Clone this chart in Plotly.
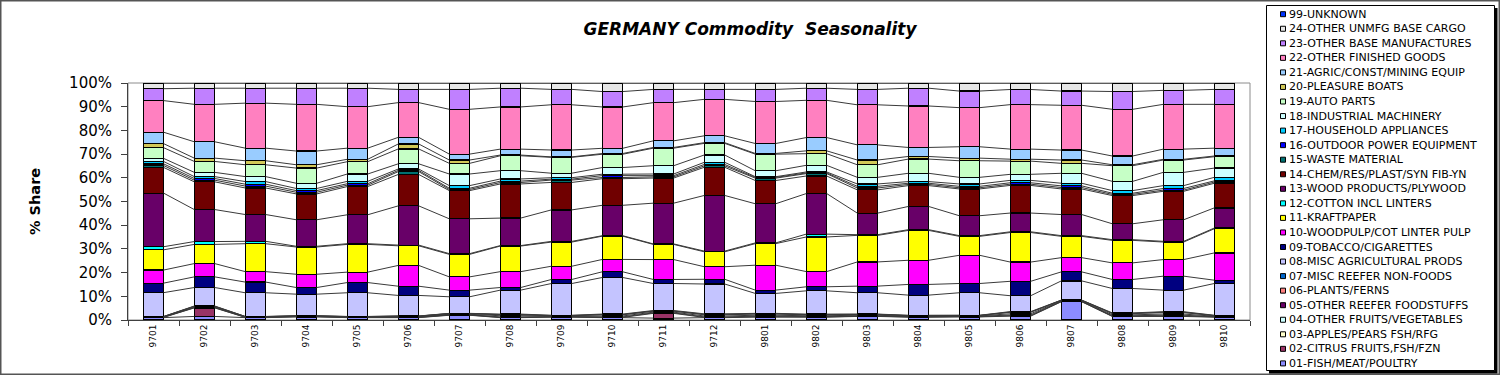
import plotly.graph_objects as go
import numpy as np

months = ["9701", "9702", "9703", "9704", "9705", "9706", "9707", "9708", "9709", "9710", "9711", "9712",
          "9801", "9802", "9803", "9804", "9805", "9806", "9807", "9808", "9809", "9810"]

names = ["01-FISH/MEAT/POULTRY", "02-CITRUS FRUITS,FSH/FZN", "03-APPLES/PEARS FSH/RFG",
         "04-OTHER FRUITS/VEGETABLES", "05-OTHER REEFER FOODSTUFFS", "06-PLANTS/FERNS",
         "07-MISC REEFER NON-FOODS", "08-MISC AGRICULTURAL PRODS", "09-TOBACCO/CIGARETTES",
         "10-WOODPULP/COT LINTER PULP", "11-KRAFTPAPER", "12-COTTON INCL LINTERS",
         "13-WOOD PRODUCTS/PLYWOOD", "14-CHEM/RES/PLAST/SYN FIB-YN", "15-WASTE MATERIAL",
         "16-OUTDOOR POWER EQUIPMENT", "17-HOUSEHOLD APPLIANCES", "18-INDUSTRIAL MACHINERY",
         "19-AUTO PARTS", "20-PLEASURE BOATS", "21-AGRIC/CONST/MINING EQUIP",
         "22-OTHER FINISHED GOODS", "23-OTHER BASE MANUFACTURES", "24-OTHER UNMFG BASE CARGO",
         "99-UNKNOWN"]

s01 = [1.0, 1.5, 1.0, 1.3, 1.0, 1.0, 2.0, 1.0, 1.2, 1.0, 0.8, 1.0, 1.2, 1.2, 1.5, 1.2, 1.3, 1.6, 7.7, 1.5, 1.5, 1.2]
s02 = [0.1, 3.6, 0.1, 0.1, 0.1, 0.1, 0.1, 0.1, 0.1, 0.1, 2.0, 0.1, 0.2, 0.1, 0.1, 0.1, 0.1, 0.2, 0.1, 0.1, 0.2, 0.1]
s03 = [0.1, 0.1, 0.1, 0.1, 0.1, 0.1, 0.1, 0.2, 0.1, 0.2, 0.2, 0.2, 0.2, 0.2, 0.1, 0.1, 0.1, 0.3, 0.1, 0.2, 0.3, 0.1]
s04 = [0.1, 0.2, 0.1, 0.1, 0.1, 0.2, 0.2, 0.5, 0.2, 0.4, 0.3, 0.4, 0.4, 0.3, 0.3, 0.2, 0.2, 0.5, 0.2, 0.4, 0.5, 0.2]
s05 = [0.1, 0.3, 0.1, 0.1, 0.1, 0.2, 0.3, 0.4, 0.2, 0.5, 0.4, 0.5, 0.5, 0.4, 0.3, 0.2, 0.2, 0.6, 0.2, 0.5, 0.6, 0.2]
s06 = [0.05, 0.1, 0.05, 0.05, 0.05, 0.05, 0.05, 0.1, 0.1, 0.1, 0.1, 0.2, 0.1, 0.1, 0.1, 0.1, 0.05, 0.1, 0.05, 0.1, 0.2, 0.1]
s07 = [0.05, 0.1, 0.05, 0.05, 0.05, 0.05, 0.05, 0.2, 0.1, 0.2, 0.2, 0.2, 0.2, 0.2, 0.1, 0.1, 0.05, 0.2, 0.05, 0.2, 0.2, 0.1]
s08 = [10.0, 7.8, 10.0, 9.1, 10.0, 8.7, 7.0, 10.1, 13.4, 15.4, 11.4, 12.6, 8.4, 9.8, 9.0, 8.5, 9.5, 6.6, 8.1, 10.3, 9.1, 13.4]
s09 = [4.0, 4.5, 4.5, 2.8, 4.3, 3.9, 2.8, 1.1, 1.7, 2.4, 1.7, 2.0, 1.4, 1.7, 2.8, 4.5, 3.9, 6.0, 3.8, 3.8, 5.9, 1.4]
s10 = [5.5, 5.6, 4.4, 5.6, 4.4, 8.8, 5.6, 6.7, 5.6, 5.2, 8.4, 5.3, 10.5, 6.4, 10.2, 10.2, 11.9, 8.0, 6.0, 7.0, 7.0, 11.5]
s11 = [8.5, 8.1, 11.8, 11.5, 11.7, 8.3, 9.5, 10.8, 10.2, 9.8, 6.4, 6.3, 9.1, 14.6, 11.2, 12.6, 8.0, 12.3, 9.0, 9.5, 7.4, 10.2]
s12 = [1.3, 1.2, 1.0, 0.3, 0.3, 0.3, 0.3, 0.2, 0.3, 0.2, 0.2, 0.3, 0.3, 1.2, 0.3, 0.3, 0.3, 0.3, 0.3, 0.3, 0.3, 0.3]
s13 = [22.5, 13.5, 11.3, 11.2, 12.2, 16.6, 14.7, 11.6, 13.3, 12.8, 17.2, 23.5, 16.5, 17.1, 9.1, 9.8, 8.4, 7.8, 8.9, 6.7, 9.1, 8.5]
s14 = [10.8, 11.7, 11.2, 10.9, 11.9, 13.3, 11.9, 14.4, 11.6, 11.2, 10.6, 11.9, 9.8, 7.4, 9.8, 8.8, 11.3, 11.5, 10.8, 11.9, 12.0, 10.4]
s15 = [0.8, 0.7, 0.8, 0.7, 0.6, 1.2, 0.5, 0.6, 1.0, 0.5, 0.5, 0.6, 1.0, 1.0, 0.8, 0.5, 0.5, 0.5, 0.6, 0.5, 0.5, 0.5]
s16 = [0.7, 0.7, 0.8, 0.7, 0.6, 0.5, 0.5, 0.6, 0.4, 0.8, 0.5, 0.6, 0.3, 0.3, 0.7, 0.5, 0.6, 0.6, 0.7, 0.5, 0.7, 0.5]
s17 = [1.0, 0.8, 1.1, 0.9, 1.0, 0.6, 1.1, 0.9, 0.6, 0.6, 0.7, 0.9, 0.3, 0.4, 1.0, 0.7, 1.0, 1.0, 1.1, 1.1, 1.2, 1.5]
s18 = [1.3, 1.8, 2.1, 2.2, 3.1, 2.2, 4.9, 3.5, 1.9, 2.8, 3.5, 3.1, 2.5, 2.8, 2.8, 3.5, 2.8, 2.5, 4.2, 3.9, 5.6, 3.9]
s19 = [4.5, 4.6, 5.0, 6.4, 5.2, 6.3, 4.5, 6.3, 6.7, 5.6, 7.4, 4.9, 7.0, 4.9, 5.3, 6.0, 7.0, 5.5, 4.2, 6.6, 5.2, 4.8]
s20 = [1.7, 1.4, 1.7, 1.4, 1.0, 2.1, 1.4, 0.3, 0.2, 0.3, 0.3, 0.3, 0.3, 1.2, 2.0, 1.1, 1.1, 0.8, 1.4, 0.4, 0.3, 0.3]
s21 = [4.8, 6.9, 5.3, 5.8, 4.7, 2.8, 2.5, 2.5, 2.9, 2.2, 2.8, 2.9, 4.2, 5.6, 6.4, 3.8, 4.8, 4.2, 4.2, 3.7, 4.3, 3.3]
s22 = [13.3, 15.8, 19.0, 19.7, 17.5, 14.7, 18.9, 17.8, 19.1, 17.4, 16.1, 15.4, 17.7, 15.7, 16.9, 17.5, 16.5, 18.5, 18.9, 19.7, 18.9, 18.5]
s23 = [5.0, 6.8, 6.3, 6.8, 7.8, 5.6, 8.4, 7.9, 6.5, 6.5, 5.6, 4.2, 5.1, 5.1, 6.5, 7.5, 7.0, 6.3, 6.0, 7.5, 5.9, 6.3]
s24 = [2.4, 2.2, 2.2, 2.2, 2.2, 2.7, 2.7, 2.2, 2.7, 3.6, 2.7, 2.7, 2.7, 2.2, 2.7, 2.2, 3.4, 2.7, 3.4, 3.6, 3.1, 2.7]
s99 = [0.0] * 22

series = [s01, s02, s03, s04, s05, s06, s07, s08, s09, s10, s11, s12, s13, s14, s15, s16, s17,
          s18, s19, s20, s21, s22, s23, s24, s99]

colors = ["#8C8CFF", "#993366", "#FFFFCC", "#CCFFFF", "#660066", "#FF8080", "#0066CC", "#C4C4FF",
          "#000080", "#FF00FF", "#FFFF00", "#00FFFF", "#680068", "#700000", "#007070", "#0000FF",
          "#00CCFF", "#CCFFFF", "#C6FFC6", "#D2C858", "#99CCFF", "#FF80C0", "#C080FF", "#E6E6E6",
          "#0033FF"]

FONT = "DejaVu Sans"
vals = np.array(series, dtype=float)
pct = vals / vals.sum(axis=0) * 100.0
tops = np.cumsum(pct, axis=0)
n = len(months)
xs_idx = list(range(n))
BW = 0.4

fig = go.Figure()
for k, name in enumerate(names):
    fig.add_trace(go.Bar(x=xs_idx, y=pct[k], name=name, width=BW,
                         marker=dict(color=colors[k], line=dict(color="#000000", width=1.2)),
                         showlegend=False))

# series lines connecting segment tops between bars
lx, ly = [], []
for k in range(len(names)):
    for i in range(n - 1):
        lx += [i + BW / 2, i + 1 - BW / 2, None]
        ly += [tops[k][i], tops[k][i + 1], None]
fig.add_trace(go.Scatter(x=lx, y=ly, mode="lines", line=dict(color="#3a3a3a", width=1),
                         hoverinfo="skip", showlegend=False))

# geometry helpers (pixel -> paper)
L, R, T, B = 128, 1250, 83, 320
W, H = R - L, B - T
def px(x):
    return (x - L) / W
def py(y):
    return (B - y) / H

shapes = []
annotations = []
# outer chart border
shapes.append(dict(type="rect", xref="paper", yref="paper", x0=px(0.75), x1=px(1499.25),
                   y0=py(374.25), y1=py(0.75), line=dict(color="#555555", width=1.5), layer="below"))
# plot area border
shapes.append(dict(type="rect", xref="paper", yref="paper", x0=0, x1=1, y0=0, y1=1,
                   line=dict(color="#8c8c8c", width=1), layer="below"))
# legend shadow and box
shapes.append(dict(type="rect", xref="paper", yref="paper", x0=px(1269), x1=px(1497.5),
                   y0=py(373.5), y1=py(8), fillcolor="#000000", line=dict(width=0)))
shapes.append(dict(type="rect", xref="paper", yref="paper", x0=px(1266.5), x1=px(1494.5),
                   y0=py(370.5), y1=py(5.5), fillcolor="#FFFFFF", line=dict(color="#000000", width=1)))

legend_order = list(range(len(names)))[::-1]
for j, k in enumerate(legend_order):
    yc = 14.2 + j * 14.55
    shapes.append(dict(type="rect", xref="paper", yref="paper", x0=px(1280.5), x1=px(1285.5),
                       y0=py(yc + 2.5), y1=py(yc - 2.5), fillcolor=colors[k],
                       line=dict(color="#000000", width=1)))
    annotations.append(dict(x=px(1286.5), y=py(yc), xref="paper", yref="paper", text=names[k],
                            showarrow=False, xanchor="left", yanchor="middle",
                            font=dict(family=FONT, size=11, color="#000000")))

# y-axis title
annotations.append(dict(x=px(35), y=py(202), xref="paper", yref="paper", text="<b>% Share</b>",
                        textangle=-90, showarrow=False, xanchor="center", yanchor="middle",
                        font=dict(family=FONT, size=14.5, color="#000000")))

fig.update_layout(
    width=1500, height=375,
    margin=dict(l=L, r=1500 - R, t=T, b=375 - B),
    paper_bgcolor="#FFFFFF", plot_bgcolor="#FFFFFF",
    barmode="stack",
    title=dict(text="<b><i>GERMANY Commodity\u00a0 Seasonality</i></b>", x=0.5, xref="container",
               xanchor="center", y=1 - 29 / 375, yref="container", yanchor="middle",
               font=dict(family=FONT, size=17, color="#000000")),
    xaxis=dict(range=[-0.5, n - 0.5], tickmode="array", tickvals=xs_idx, ticktext=months,
               tickangle=-90, ticks="", showgrid=False, zeroline=False, showline=True,
               linecolor="#404040", linewidth=1,
               tickfont=dict(family=FONT, size=9, color="#000000"),
               minor=dict(tickmode="array", tickvals=[i - 0.5 for i in range(n + 1)],
                          ticks="outside", ticklen=5, tickcolor="#404040", showgrid=False)),
    yaxis=dict(range=[0, 100], tickmode="array", tickvals=list(range(0, 101, 10)),
               ticktext=[f"{v}%" for v in range(0, 101, 10)], ticks="outside", ticklen=6,
               tickcolor="#404040", showgrid=False, zeroline=False, showline=True,
               linecolor="#404040", linewidth=1, ticklabelstandoff=6,
               tickfont=dict(family=FONT, size=15, color="#000000")),
    shapes=shapes,
    annotations=annotations,
    hovermode=False,
)

fig.write_html("out.html", config={"displayModeBar": False},
               post_script="document.body.style.margin='0px';document.body.style.overflow='hidden';")
